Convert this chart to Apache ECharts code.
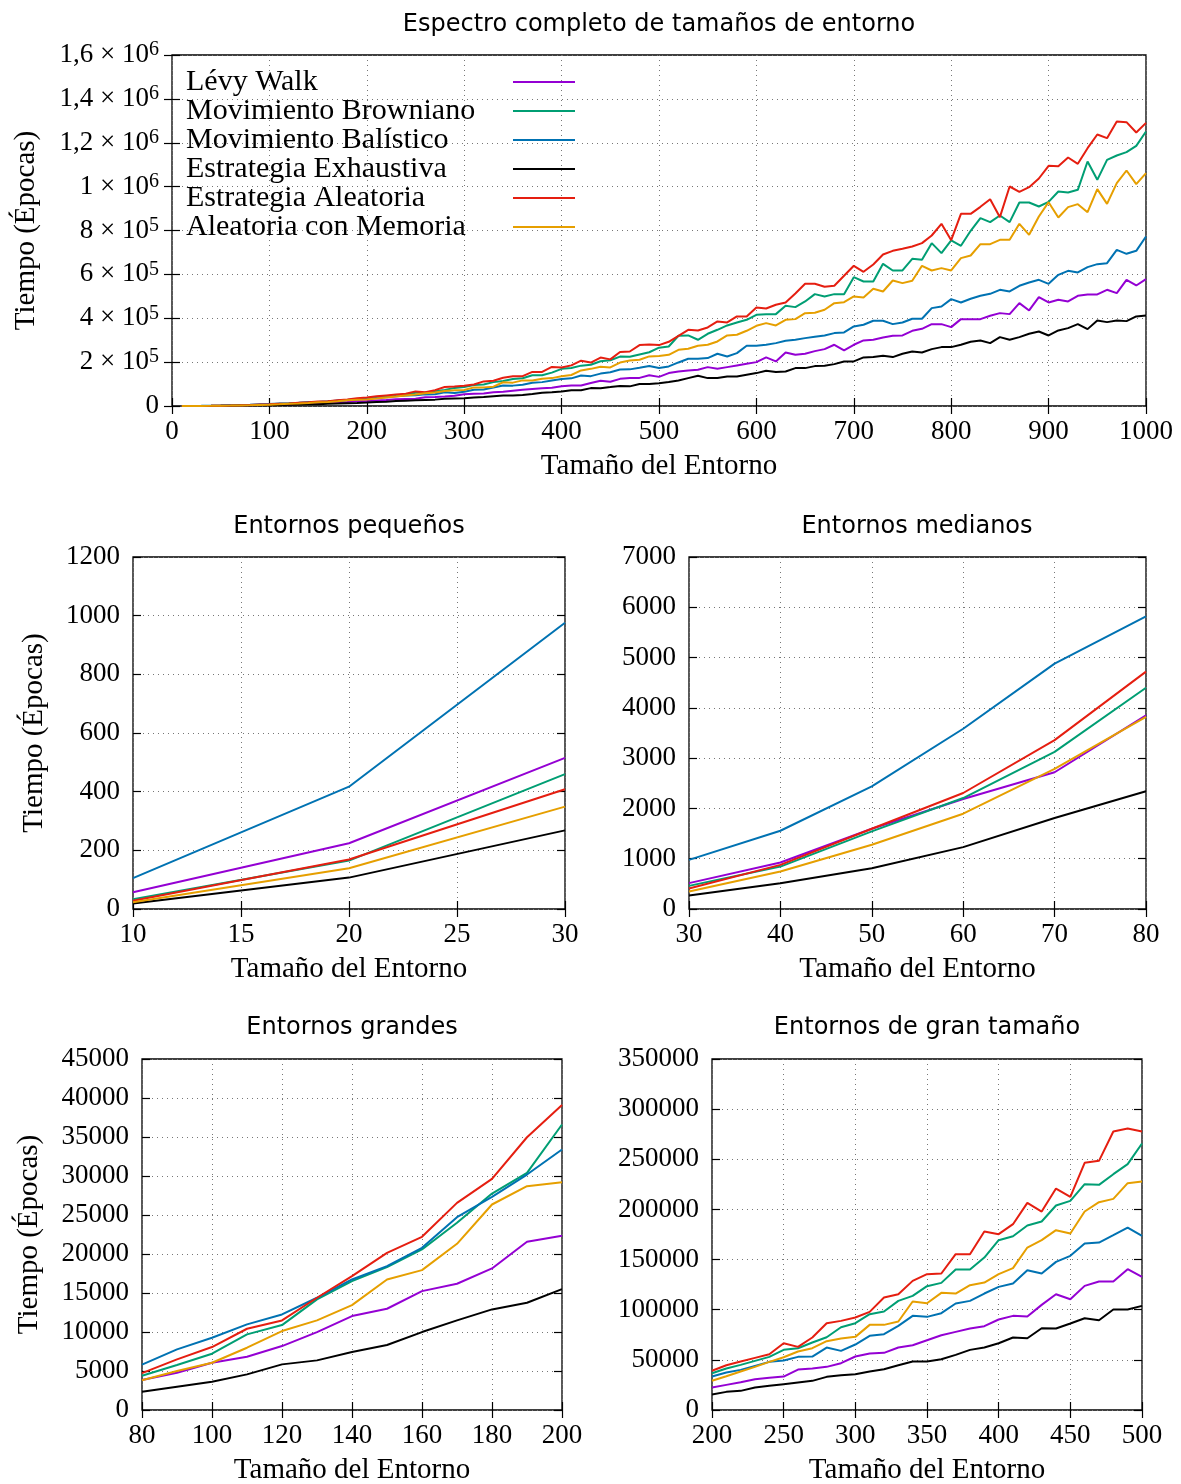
<!DOCTYPE html>
<html>
<head>
<meta charset="utf-8">
<script src="https://cdn.jsdelivr.net/npm/echarts@6/dist/echarts.min.js"></script>
<style>
html, body { margin: 0; background: #fff; }
#container { width: 1181px; height: 1484px; }
</style>
</head>
<body>
<div id="container"></div>
<script>
// tamaños de entorno medidos
const sizes = [
    10, 20, 30, 40, 50, 60, 70, 80, 90, 100,
    110, 120, 130, 140, 150, 160, 170, 180, 190, 200,
    210, 220, 230, 240, 250, 260, 270, 280, 290, 300,
    310, 320, 330, 340, 350, 360, 370, 380, 390, 400,
    410, 420, 430, 440, 450, 460, 470, 480, 490, 500,
    510, 520, 530, 540, 550, 560, 570, 580, 590, 600,
    610, 620, 630, 640, 650, 660, 670, 680, 690, 700,
    710, 720, 730, 740, 750, 760, 770, 780, 790, 800,
    810, 820, 830, 840, 850, 860, 870, 880, 890, 900,
    910, 920, 930, 940, 950, 960, 970, 980, 990, 1000
];

const levyWalk = [
    57, 224, 515, 924, 1596, 2188, 2719, 3850, 4782, 6063,
    6832, 8198, 9991, 12041, 12980, 15243, 16182, 18147, 21563, 22350,
    25063, 27722, 30714, 32043, 33373, 40353, 41350, 43013, 46669, 53317,
    56309, 56974, 62292, 64619, 69605, 74591, 77915, 81239, 83565, 90213,
    93870, 93205, 104839, 115476, 110490, 123786, 128107, 128107, 140406, 132761,
    149925, 157520, 162077, 165115, 177267, 169672, 177267, 184862, 192457, 200052,
    221318, 203090, 244103, 233470, 238027, 250179, 259293, 279040, 253217, 279040,
    298787, 301825, 312458, 320053, 321572, 342838, 351952, 373218, 373218, 359547,
    396003, 396003, 396003, 411193, 423345, 418788, 468915, 435497, 496257, 471953,
    484105, 476510, 502333, 508409, 508409, 529675, 514485, 575245, 549422, 578283
];

const browniano = [
    33, 165, 460, 844, 1543, 2207, 3125, 4400, 5764, 7216,
    9693, 10888, 14176, 16524, 18318, 20581, 23997, 27754, 30401, 36600,
    41350, 45007, 48996, 52985, 59965, 61627, 67278, 72596, 82568, 86557,
    95532, 98191, 108828, 113814, 123453, 126777, 140073, 140073, 152040, 169325,
    173313, 183951, 187939, 203894, 208548, 225168, 224503, 235140, 245112, 265721,
    271445, 320053, 321572, 301825, 329167, 347395, 367142, 380813, 392965, 415750,
    418788, 418788, 456763, 450687, 476510, 509928, 499295, 509928, 509928, 587397,
    567650, 567650, 648157, 617777, 617777, 670942, 666385, 742335, 696765, 754487,
    730183, 798538, 856260, 838032, 868412, 838032, 927653, 927653, 909425, 930691,
    977780, 973223, 985375, 1114490, 1030945, 1122085, 1141832, 1157022, 1185883, 1251200
];

const balistico = [
    105, 417, 976, 1556, 2440, 3584, 4880, 5820, 7771, 9265,
    10974, 12254, 14389, 16738, 18446, 20794, 24722, 27327, 30188, 33400,
    37362, 40021, 44010, 47999, 49328, 52985, 53317, 62292, 58968, 65283,
    73926, 75588, 83898, 93870, 92873, 96529, 106169, 108828, 116141, 122789,
    126113, 139409, 136085, 147719, 153702, 166001, 166998, 174311, 181956, 173646,
    180305, 198533, 215242, 215242, 218280, 238027, 225875, 241065, 274483, 274483,
    279040, 286635, 297268, 301825, 309420, 315496, 321572, 332205, 335243, 362585,
    370180, 388408, 388408, 373218, 380813, 397522, 397522, 446130, 453725, 487143,
    471953, 488662, 502333, 511447, 529675, 522080, 547903, 563093, 575245, 557017,
    598030, 616258, 608663, 632967, 646638, 651195, 711955, 693727, 707398, 772715
];

const exhaustiva = [
    19, 107, 268, 512, 811, 1230, 1809, 2340, 2989, 3629,
    4569, 5850, 6362, 7430, 8327, 9991, 11486, 12895, 13749, 15500,
    18083, 19080, 22404, 24066, 25728, 27390, 29052, 33041, 34703, 35700,
    38359, 40686, 44675, 48331, 48331, 50658, 54979, 59965, 62292, 66613,
    72264, 71599, 81571, 81239, 86225, 91543, 89549, 100185, 100185, 103842,
    108912, 116507, 127140, 137773, 127140, 127140, 134735, 134735, 142330, 149925,
    160558, 154482, 157520, 172710, 172710, 181824, 183343, 190938, 203090, 203090,
    221318, 222837, 228913, 222837, 238027, 248660, 244103, 259293, 268407, 268407,
    279040, 292711, 298787, 286635, 313977, 301825, 313977, 329167, 339800, 321572,
    344357, 354990, 373218, 350433, 389927, 382332, 389927, 386889, 408155, 412712
];

const aleatoria = [
    28, 169, 408, 878, 1596, 2307, 3358, 4720, 6490, 8070,
    10418, 11486, 14389, 17165, 20154, 22203, 26558, 29633, 34970, 39100,
    44675, 48331, 51987, 55644, 66613, 62957, 72264, 86557, 88884, 92208,
    97859, 112152, 115476, 128772, 135420, 136085, 155364, 155364, 177967, 175308,
    185280, 206553, 197911, 220847, 212537, 246441, 248436, 277687, 280679, 277687,
    292711, 320053, 347395, 344357, 358028, 385370, 380813, 408155, 408155, 449168,
    444611, 461320, 471953, 512966, 557017, 557017, 543346, 547903, 593473, 639043,
    611701, 645119, 690689, 707398, 716512, 727145, 742335, 777272, 830437, 756006,
    876007, 876007, 907906, 942843, 860817, 1000565, 976261, 997527, 1037021, 1094743,
    1093224, 1132718, 1103857, 1175250, 1237529, 1220820, 1296770, 1293732, 1246643, 1290694
];

const memoria = [
    23, 139, 349, 745, 1277, 1895, 2786, 3820, 4996, 6063,
    7985, 10120, 11486, 13450, 16738, 17933, 21307, 26345, 28693, 29200,
    33705, 38359, 43013, 47999, 52652, 58303, 61627, 68607, 71267, 72929,
    84895, 84895, 88219, 108163, 106501, 116805, 116141, 124451, 127110, 135420,
    141403, 162012, 169325, 179297, 175973, 197911, 207218, 210542, 226165, 227827,
    233470, 256255, 260812, 274483, 279040, 294230, 321572, 324610, 342838, 365623,
    377775, 367142, 392965, 396003, 423345, 424864, 438535, 468915, 473472, 499295,
    494738, 534232, 522080, 572207, 560055, 570688, 639043, 617777, 628410, 617777,
    673980, 686132, 737778, 737778, 757525, 757525, 830437, 780310, 863855, 929172,
    859298, 906387, 920058, 883602, 988413, 921577, 1015765, 1073477, 1011198, 1061325
];

const seriesNames = ['Lévy Walk', 'Movimiento Browniano', 'Movimiento Balístico',
    'Estrategia Exhaustiva', 'Estrategia Aleatoria', 'Aleatoria con Memoria'];
const seriesValues = [levyWalk, browniano, balistico, exhaustiva, aleatoria, memoria];
const seriesColors = ['#9400d3', '#009e73', '#0072b2', '#000000', '#e51e10', '#e69f00'];

const panelTitles = ['Espectro completo de tamaños de entorno', 'Entornos pequeños',
    'Entornos medianos', 'Entornos grandes', 'Entornos de gran tamaño'];

const panels = [
    { grid: { left: 172, top: 55, width: 974, height: 351 }, titleX: 659, titleY: 13,
      xMin: 0, xMax: 1000, xStep: 100, yMax: 1600000, yStep: 200000, yNameGap: 131, sci: true },
    { grid: { left: 133, top: 557, width: 432, height: 352 }, titleX: 349, titleY: 515,
      xMin: 10, xMax: 30, xStep: 5, yMax: 1200, yStep: 200, yNameGap: 84 },
    { grid: { left: 689, top: 557, width: 457, height: 352 }, titleX: 917, titleY: 515,
      xMin: 30, xMax: 80, xStep: 10, yMax: 7000, yStep: 1000, yNameGap: null },
    { grid: { left: 142, top: 1059, width: 420, height: 351 }, titleX: 352, titleY: 1016,
      xMin: 80, xMax: 200, xStep: 20, yMax: 45000, yStep: 5000, yNameGap: 98 },
    { grid: { left: 712, top: 1059, width: 430, height: 351 }, titleX: 927, titleY: 1016,
      xMin: 200, xMax: 500, xStep: 50, yMax: 350000, yStep: 50000, yNameGap: null }
];

const serif = 'Liberation Serif';

function sciLabel(v) {
    if (v === 0) return '0';
    if (v >= 1000000) {
        const m = v / 1000000;
        return '{b|' + (Number.isInteger(m) ? m : m.toFixed(1).replace('.', ',')) + ' × 10}{s|6}';
    }
    return '{b|' + Math.round(v / 100000) + ' × 10}{s|5}';
}

function plainLabel(v) {
    return String(v);
}

const dom = document.getElementById('container');
const myChart = echarts.init(dom, null, { renderer: 'canvas' });

const grids = [], xAxes = [], yAxes = [], titles = [], series = [];
const tickStyle = { inside: true, length: 8, lineStyle: { color: '#000', width: 1.2 } };
const gridLine = { show: true, lineStyle: { color: '#777', width: 1, type: [1, 4] } };

panels.forEach(function (p, i) {
    grids.push(Object.assign({
        show: true, borderColor: '#000', borderWidth: 1.3, backgroundColor: 'transparent',
        containLabel: false, outerBoundsMode: 'none'
    }, p.grid));
    titles.push({
        text: panelTitles[i], left: p.titleX, top: p.titleY, textAlign: 'center', padding: 0,
        textStyle: { fontFamily: 'DejaVu Sans', fontSize: 24, fontWeight: 'normal', color: '#000' }
    });
    xAxes.push({
        type: 'value', gridIndex: i, min: p.xMin, max: p.xMax, interval: p.xStep,
        name: 'Tamaño del Entorno', nameLocation: 'middle', nameGap: 46,
        nameTextStyle: { fontFamily: serif, fontSize: 29, color: '#000' },
        axisLine: { show: false },
        axisTick: tickStyle,
        axisLabel: { margin: 12, fontFamily: serif, fontSize: 27, color: '#000', formatter: plainLabel },
        splitLine: gridLine
    });
    yAxes.push({
        type: 'value', gridIndex: i, min: 0, max: p.yMax, interval: p.yStep,
        name: p.yNameGap ? 'Tiempo (Épocas)' : '', nameLocation: 'middle', nameGap: p.yNameGap || 0,
        nameTextStyle: { fontFamily: serif, fontSize: 29, color: '#000' },
        axisLine: { show: false },
        axisTick: tickStyle,
        axisLabel: {
            margin: 13, fontFamily: serif, fontSize: 27, color: '#000',
            formatter: p.sci ? sciLabel : plainLabel,
            rich: {
                b: { fontFamily: serif, fontSize: 27, lineHeight: 30, color: '#000' },
                s: { fontFamily: serif, fontSize: 20, lineHeight: 30, verticalAlign: 'top', color: '#000' }
            }
        },
        splitLine: gridLine
    });
    seriesNames.forEach(function (name, k) {
        const vals = seriesValues[k];
        const data = sizes.map(function (s, j) { return [s, vals[j]]; })
            .filter(function (d) { return d[0] >= p.xMin && d[0] <= p.xMax; });
        series.push({
            name: name, type: 'line', xAxisIndex: i, yAxisIndex: i,
            data: data, symbol: 'none', showSymbol: false,
            lineStyle: { color: seriesColors[k], width: 2 },
            itemStyle: { color: seriesColors[k] },
            z: 3 + k
        });
    });
});

// ticks espejo arriba y a la derecha
panels.forEach(function (p, i) {
    xAxes.push({
        type: 'value', gridIndex: i, position: 'top', min: p.xMin, max: p.xMax, interval: p.xStep,
        axisLine: { show: false }, axisLabel: { show: false }, splitLine: { show: false },
        axisTick: tickStyle
    });
    yAxes.push({
        type: 'value', gridIndex: i, position: 'right', min: 0, max: p.yMax, interval: p.yStep,
        axisLine: { show: false }, axisLabel: { show: false }, splitLine: { show: false },
        axisTick: tickStyle
    });
});

const option = {
    animation: false,
    backgroundColor: '#fff',
    title: titles,
    legend: {
        data: seriesNames,
        orient: 'vertical',
        left: 186,
        top: 67,
        padding: 0,
        align: 'right',
        icon: 'rect',
        itemWidth: 62,
        itemHeight: 2,
        itemGap: -1,
        formatter: function (name) { return '{t|' + name + '}'; },
        textStyle: {
            fontFamily: serif, fontSize: 30, lineHeight: 29, color: '#000',
            rich: { t: { width: 322, align: 'left', fontFamily: serif, fontSize: 30, lineHeight: 29, color: '#000' } }
        }
    },
    grid: grids,
    xAxis: xAxes,
    yAxis: yAxes,
    series: series
};

myChart.setOption(option);
</script>
</body>
</html>
